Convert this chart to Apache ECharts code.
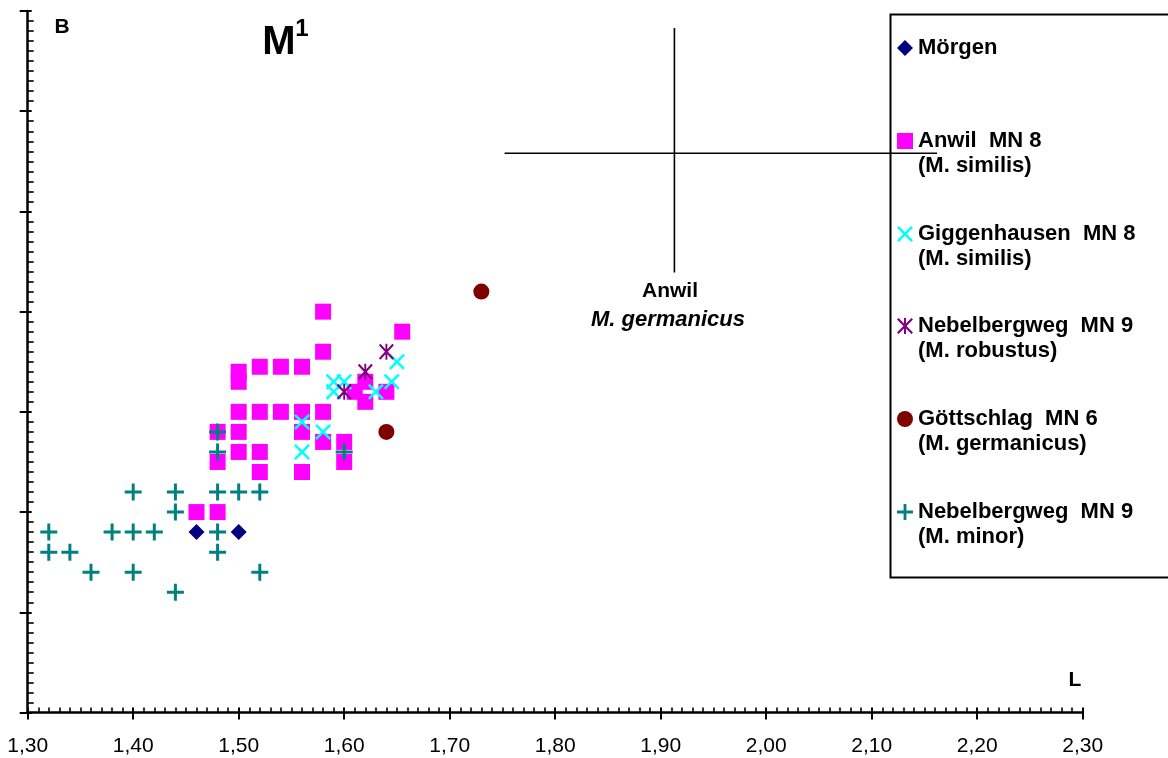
<!DOCTYPE html>
<html><head><meta charset="utf-8">
<script src="https://cdn.jsdelivr.net/npm/echarts@6/dist/echarts.min.js"></script>
<style>html,body{margin:0;padding:0;background:#fff}#c{width:1168px;height:758px}</style>
</head><body><div id="c"></div>
<script>
// ---------- data ----------
const xTickLabels = ['1,30','1,40','1,50','1,60','1,70','1,80','1,90','2,00','2,10','2,20','2,30'];
const xRange = [1.30, 2.30];
const yRange = [0.80, 1.50];

const seriesNames = [
  'Mörgen',
  'Anwil  MN 8\n(M. similis)',
  'Giggenhausen  MN 8\n(M. similis)',
  'Nebelbergweg  MN 9\n(M. robustus)',
  'Göttschlag  MN 6\n(M. germanicus)',
  'Nebelbergweg  MN 9\n(M. minor)'
];

const morgen = [[1.46,0.98],[1.50,0.98]];
const anwilSimilis = [
  [1.58,1.20],[1.655,1.18],[1.58,1.16],[1.50,1.14],[1.50,1.13],
  [1.52,1.145],[1.54,1.145],[1.56,1.145],
  [1.50,1.10],[1.52,1.10],[1.54,1.10],[1.56,1.10],[1.58,1.10],
  [1.48,1.08],[1.50,1.08],[1.56,1.08],[1.58,1.07],[1.60,1.07],
  [1.50,1.06],[1.52,1.06],[1.48,1.05],[1.60,1.05],[1.52,1.04],[1.56,1.04],
  [1.46,1.00],[1.48,1.00],
  [1.61,1.12],[1.62,1.13],[1.62,1.11],[1.64,1.12]
];
const giggenhausenSimilis = [
  [1.56,1.09],[1.58,1.08],[1.56,1.06],[1.59,1.13],[1.60,1.13],
  [1.59,1.12],[1.63,1.12],[1.645,1.13],[1.65,1.15]
];
const nebelbergwegRobustus = [[1.60,1.12],[1.62,1.14],[1.64,1.16]];
const goettschlagGermanicus = [[1.73,1.22],[1.64,1.08]];
const nebelbergwegMinor = [
  [1.32,0.98],[1.32,0.96],[1.34,0.96],[1.36,0.94],[1.38,0.98],[1.40,0.98],
  [1.42,0.98],[1.40,0.94],[1.44,1.00],[1.44,0.92],[1.48,0.98],[1.48,0.96],
  [1.52,0.94],[1.40,1.02],[1.44,1.02],[1.48,1.02],[1.50,1.02],[1.52,1.02],
  [1.48,1.08],[1.48,1.06],[1.60,1.06]
];
// Anwil M. germanicus: mean and ranges
const germanicusMean = [1.913, 1.358];
const germanicusRangeL = [1.752, 2.162];
const germanicusRangeB = [1.239, 1.483];

// ---------- styling ----------
const FONT = '"Liberation Sans", Arial, sans-serif';
const plusPath = 'path://M7,0H10V7H17V10H10V17H7V10H0V7H7Z';
const a = 1.8;
const xPath = `path://M0,${a}L${a},0L8,${8-a}L${16-a},0L16,${a}L${8+a},8L16,${16-a}L${16-a},16L8,${8+a}L${a},16L0,${16-a}L${8-a},8Z`;
const b = 1.6;
const starPath = `path://M0,${b}L${b},0L8,${8-b}L${16-b},0L16,${b}L${8+b},8L16,${16-b}L${16-b},16L8,${8+b}L${b},16L0,${16-b}L${8-b},8Z M7,0H9V16H7Z`;

const seriesDefs = [
  {data: morgen, symbol: 'diamond', size: 16, color: '#000080'},
  {data: anwilSimilis, symbol: 'rect', size: 16, color: '#FF00FF'},
  {data: giggenhausenSimilis, symbol: xPath, size: 16, color: '#00FFFF'},
  {data: nebelbergwegRobustus, symbol: starPath, size: [15,16], color: '#800080'},
  {data: goettschlagGermanicus, symbol: 'circle', size: 16, color: '#800000'},
  {data: nebelbergwegMinor, symbol: plusPath, size: 17, color: '#008080'}
];

const legendCenters = [48, 141, 234, 326, 419, 512];

const chart = echarts.init(document.getElementById('c'), null, {renderer: 'canvas'});

const baseX = {type: 'value', min: xRange[0], max: xRange[1], interval: 0.1, gridIndex: 0,
  splitLine: {show: false}, position: 'bottom'};
const baseY = {type: 'value', min: yRange[0], max: yRange[1], interval: 0.1, gridIndex: 0,
  splitLine: {show: false}, position: 'left'};

const option = {
  animation: false,
  backgroundColor: '#fff',
  grid: {left: 27.7, right: 85.3, top: 11, bottom: 45.5, containLabel: false, outerBoundsMode: 'none'},
  xAxis: [
    Object.assign({}, baseX, {
      axisLine: {show: true, lineStyle: {color: '#000', width: 2.5}},
      axisTick: {show: true, inside: false, length: 7, lineStyle: {color: '#000', width: 2}},
      minorTick: {show: false},
      axisLabel: {show: true, margin: 23, color: '#000', fontSize: 21, fontFamily: FONT,
        formatter: (v, i) => xTickLabels[i]}
    }),
    Object.assign({}, baseX, {
      axisLine: {show: false},
      axisTick: {show: true, inside: true, length: 5, lineStyle: {color: '#000', width: 2}},
      minorTick: {show: true, splitNumber: 10, length: 5, lineStyle: {color: '#000', width: 1.6}},
      axisLabel: {show: false}
    })
  ],
  yAxis: [
    Object.assign({}, baseY, {
      axisLine: {show: true, lineStyle: {color: '#000', width: 2.5}},
      axisTick: {show: true, inside: false, length: 8, lineStyle: {color: '#000', width: 2}},
      minorTick: {show: false},
      axisLabel: {show: false}
    }),
    Object.assign({}, baseY, {
      axisLine: {show: false},
      axisTick: {show: true, inside: true, length: 4, lineStyle: {color: '#000', width: 2}},
      minorTick: {show: true, splitNumber: 10, length: 6, lineStyle: {color: '#000', width: 1.6}},
      axisLabel: {show: false}
    })
  ],
  legend: seriesNames.map((n, i) => {
    const twoLine = n.indexOf('\n') >= 0;
    return {
      data: [n], left: 897, top: legendCenters[i] - (twoLine ? 37.5 : 12.5),
      orient: 'vertical', padding: 0, itemWidth: 16, itemHeight: 16, itemGap: 0,
      selectedMode: false,
      formatter: (name) => (name.indexOf('\n') >= 0 ? '\n' + name : name),
      textStyle: {color: '#000', fontWeight: 'bold', fontSize: 22, fontFamily: FONT, lineHeight: 25}
    };
  }),
  series: [
    {type: 'line', silent: true, symbol: 'none', xAxisIndex: 0, yAxisIndex: 0,
      data: [[germanicusRangeL[0], germanicusMean[1]], [germanicusRangeL[1], germanicusMean[1]]],
      lineStyle: {color: '#000', width: 1.6}, z: 1},
    {type: 'line', silent: true, symbol: 'none', xAxisIndex: 0, yAxisIndex: 0,
      data: [[germanicusMean[0], germanicusRangeB[0]], [germanicusMean[0], germanicusRangeB[1]]],
      lineStyle: {color: '#000', width: 1.6}, z: 1}
  ].concat(seriesDefs.map((d, i) => ({
    type: 'scatter', name: seriesNames[i], xAxisIndex: 0, yAxisIndex: 0,
    data: d.data, symbol: d.symbol, symbolSize: d.size,
    itemStyle: {color: d.color, opacity: 1}, z: 3
  }))),
  graphic: [
    {type: 'rect', left: 888, top: 12, shape: {width: 300, height: 563},
      style: {fill: 'none', stroke: '#000', lineWidth: 2}, silent: true, z: 0},
    {type: 'text', x: 62, y: 27, style: {text: 'B', font: 'bold 21px ' + FONT, align: 'center', verticalAlign: 'middle', fill: '#000'}},
    {type: 'text', x: 279, y: 43, style: {text: 'M', font: 'bold 40px ' + FONT, align: 'center', verticalAlign: 'middle', fill: '#000'}},
    {type: 'text', x: 302, y: 29, style: {text: '1', font: 'bold 24px ' + FONT, align: 'center', verticalAlign: 'middle', fill: '#000'}},
    {type: 'text', x: 1075, y: 680, style: {text: 'L', font: 'bold 21px ' + FONT, align: 'center', verticalAlign: 'middle', fill: '#000'}},
    {type: 'text', x: 670, y: 291, style: {text: 'Anwil', font: 'bold 21px ' + FONT, align: 'center', verticalAlign: 'middle', fill: '#000'}},
    {type: 'text', x: 668, y: 320, style: {text: 'M. germanicus', font: 'italic bold 22px ' + FONT, align: 'center', verticalAlign: 'middle', fill: '#000'}}
  ]
};
chart.setOption(option);
</script></body></html>
